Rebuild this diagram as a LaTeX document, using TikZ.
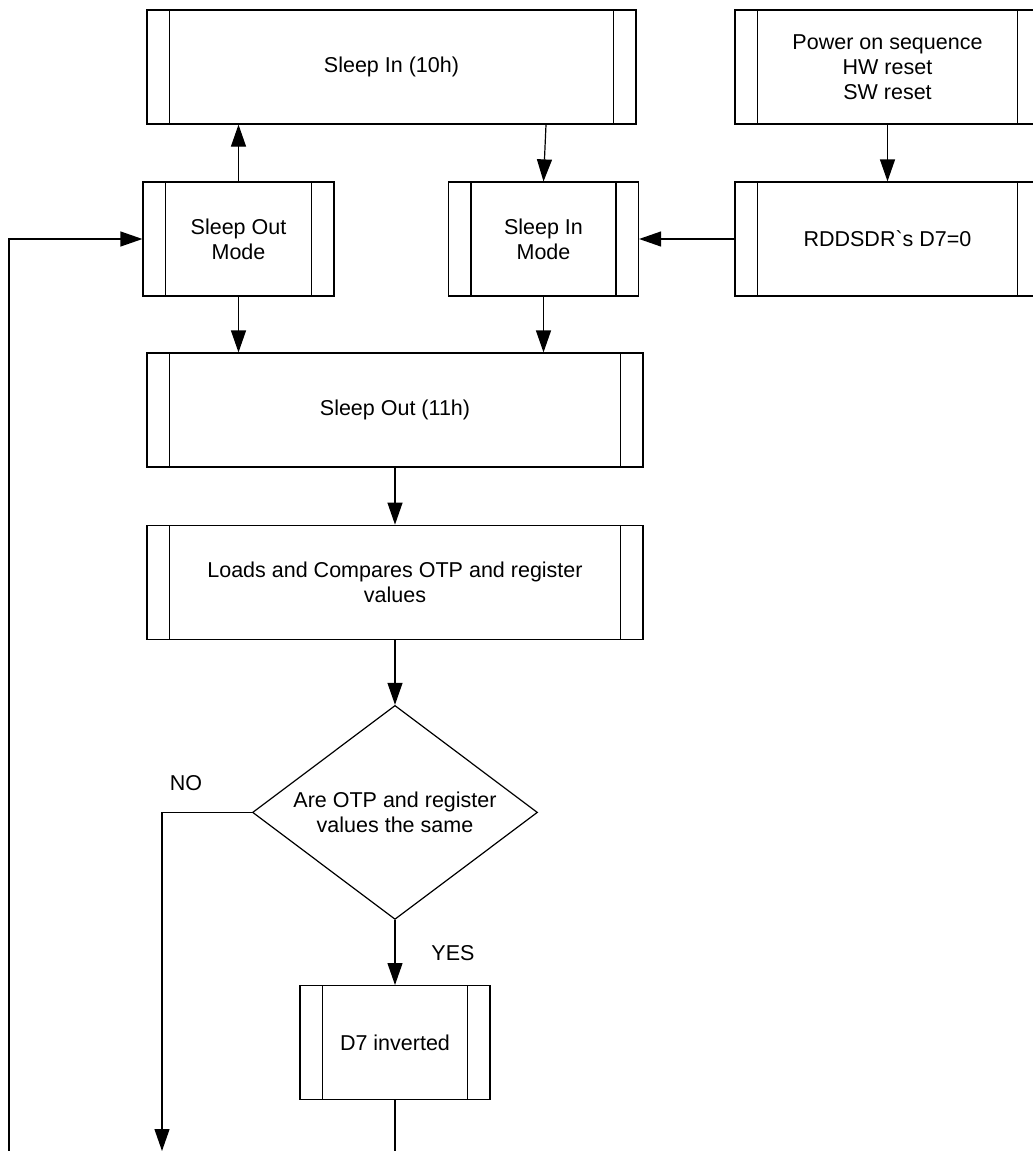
\documentclass[tikz,border=0pt]{standalone}
\usepackage{fontspec}
\setmainfont{Liberation Sans}
\usetikzlibrary{arrows.meta, positioning, shapes.geometric}

\begin{document}
\begin{tikzpicture}[
    x=0.5pt, y=-0.5pt,
    font=\fontsize{10.75pt}{12.5pt}\selectfont,
    proc/.style={draw, line width=0.6pt, align=center, inner sep=0pt, minimum height=57pt,
      path picture={
        \draw[line width=0.6pt] ([xshift=11.25pt]path picture bounding box.north west) -- ([xshift=11.25pt]path picture bounding box.south west);
        \draw[line width=0.6pt] ([xshift=-11.25pt]path picture bounding box.north east) -- ([xshift=-11.25pt]path picture bounding box.south east);
      }},
    check/.style={draw, diamond, line width=0.6pt, align=center, inner sep=0pt, aspect=1.33, minimum width=142.5pt, minimum height=107pt},
    arr/.style={-{Triangle[length=11pt, width=7.5pt]}, line width=0.6pt}
  ]
    \useasboundingbox (0,0) rectangle (1033,1151);

    % top rows
    \node[proc, minimum width=244.5pt] (sleepin) at (391.5,67) {Sleep In (10h)};
    \node[proc, minimum width=152.5pt] (power) at (887.5,67) {Power on sequence\\HW reset\\SW reset};
    \node[proc, minimum width=95.5pt] (sleepoutmode) at (238.5,239) {Sleep Out\\Mode};
    \node[proc, minimum width=95pt] (sleepinmode) at (543.5,239) {Sleep In\\Mode};
    \node[proc, minimum width=152.5pt] (rddsdr) at (887.5,239) {RDDSDR\textasciigrave s D7=0};

    % main column
    \node[proc, minimum width=248pt] (sleepout) at (395,410) {Sleep Out (11h)};
    \node[proc, minimum width=248pt, below=28.5pt of sleepout] (loads) {Loads and Compares OTP and register\\values};
    \node[check, below=32.5pt of loads] (chk) {Are OTP and register\\values the same};
    \node[proc, minimum width=95pt, below=32.5pt of chk] (d7) {D7 inverted};

    \node (no) at (186,783) {NO};
    \node (yes) at (453,953) {YES};

    \coordinate (noend) at (162,1151);
    \coordinate (d7end) at (395,1151);
    \coordinate (fbstart) at (9,1151);

    \draw[arr] (sleepoutmode.north) -- (sleepoutmode.north |- sleepin.south);
    \draw[arr] ([xshift=77.25pt]sleepin.south) -- (sleepinmode.north);
    \draw[arr] (power) -- (rddsdr);
    \draw[arr] (rddsdr) -- (sleepinmode);
    \draw[arr] (sleepoutmode.south) -- (sleepoutmode.south |- sleepout.north);
    \draw[arr] (sleepinmode.south) -- (sleepinmode.south |- sleepout.north);
    \draw[arr] (sleepout) -- (loads);
    \draw[arr] (loads) -- (chk);
    \draw[arr] (chk) -- (d7);
    \draw[arr] (chk.west) -| (noend);
    \draw[line width=0.6pt] (d7.south) -- (d7end);
    \draw[arr] (fbstart) |- (sleepoutmode.west);
  \end{tikzpicture}
\end{document}
